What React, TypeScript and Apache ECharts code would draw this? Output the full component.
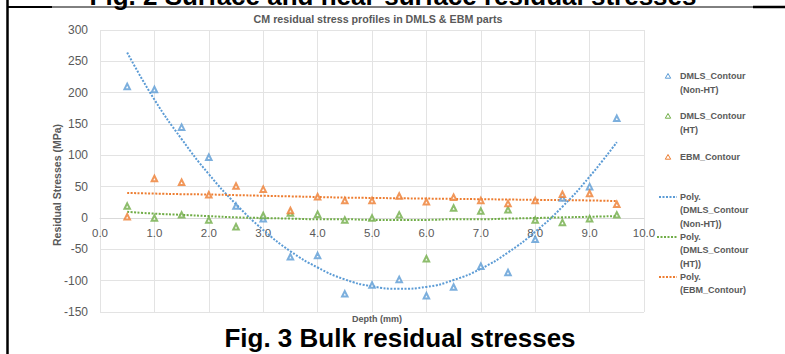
import React, { useEffect, useRef } from "react";
import * as echarts from "echarts";

const depth = [0.5, 1.0, 1.5, 2.0, 2.5, 3.0, 3.5, 4.0, 4.5, 5.0, 5.5, 6.0, 6.5, 7.0, 7.5, 8.0, 8.5, 9.0, 9.5];
const dmlsNonHT = [210, 205, 145, 97, 19, -1, -62, -60, -121, -107, -98, -124, -110, -77, -87, -34, 32, 50, 159];
const dmlsHT = [19, 0, 5, -3, -14, 4, 8, 6, -3, 0, 5, -65, 16, 11, 13, -3, -7, -1, 5];
const ebm = [2, 63, 57, 37, 51, 46, 12, 34, 28, 28, 35, 26, 33, 28, 23, 28, 38, 39, 22];
const polyNonHT = [264, 189, 126, 70, 22, -19, -53, -79, -98, -109, -113, -110, -99, -81, -55, -22, 18, 66, 121];
const polyHT = [10, 7, 5, 3, 1, 0, -1, -2, -2, -3, -3, -3, -2, -2, -1, 0, 1, 2, 3];
const polyEBM = [40, 39, 38, 37.5, 36.5, 35.5, 34.5, 33.5, 32.5, 32, 31.5, 31, 30.5, 30, 29.5, 29, 28.5, 28, 27];

const seriesNames = [
  "DMLS_Contour (Non-HT)",
  "DMLS_Contour (HT)",
  "EBM_Contour",
  "Poly. (DMLS_Contour (Non-HT))",
  "Poly. (DMLS_Contour (HT))",
  "Poly. (EBM_Contour)",
];
const yTicks = { min: -150, max: 300, interval: 50 };
const xTicks = { min: 0, max: 10, interval: 1 };

const BLUE = "#5b9bd5";
const GREEN = "#70ad47";
const ORANGE = "#ed7d31";
const GRAY = "#595959";
const FONT = '"Liberation Sans", Arial, sans-serif';

const GRID_TOP = 30;
const GRID_BOTTOM = 42;
const CHART_H = 354;

const pairs = (vals: number[]) => depth.map((d, i) => [d, vals[i]]);

export default function App() {
  const ref = useRef<HTMLDivElement>(null);
  useEffect(() => {
    if (!ref.current) return;
    const chart = echarts.init(ref.current, null, { renderer: "svg" });

    // distance (px) from the grid bottom to the y = 0 line
    const plotH = CHART_H - GRID_TOP - GRID_BOTTOM;
    const zeroOffset = (0 - yTicks.min) / (yTicks.max - yTicks.min) * plotH;

    const legendText = (x: number, y: number, text: string) => ({
      type: "text",
      x,
      y,
      style: {
        text,
        fill: GRAY,
        font: `bold 9px ${FONT}`,
        textAlign: "left",
        textVerticalAlign: "middle",
      },
    });
    const tri = (cx: number, cy: number, color: string) => ({
      type: "polygon",
      shape: { points: [[cx, cy - 2.5], [cx + 2.7, cy + 2.2], [cx - 2.7, cy + 2.2]] },
      style: { fill: "none", stroke: color, lineWidth: 1 },
    });
    const dots = (x1: number, x2: number, y: number, color: string) => ({
      type: "line",
      shape: { x1, y1: y, x2, y2: y },
      style: { stroke: color, lineWidth: 2, lineDash: [2, 1.5] },
    });

    const scatterBase = {
      type: "scatter",
      symbol: "emptyTriangle",
      symbolSize: 5.5,
      z: 3,
    };
    const lineBase = {
      type: "line",
      smooth: true,
      showSymbol: false,
      symbol: "none",
      z: 2,
    };

    chart.setOption({
      animation: false,
      backgroundColor: "#ffffff",
      title: {
        text: "CM residual stress profiles in DMLS & EBM parts",
        left: 373,
        top: 8,
        textAlign: "center",
        textStyle: { fontSize: 10.7, fontWeight: "bold", color: GRAY, fontFamily: FONT },
      },
      grid: { left: 100, right: 141, top: GRID_TOP, bottom: GRID_BOTTOM, containLabel: false },
      xAxis: {
        type: "value",
        min: xTicks.min,
        max: xTicks.max,
        interval: xTicks.interval,
        position: "bottom",
        offset: -zeroOffset,
        axisLine: { show: true, onZero: false, lineStyle: { color: "#d9d9d9", width: 1 } },
        axisTick: { show: false },
        axisLabel: {
          color: GRAY,
          fontSize: 11.5,
          fontFamily: FONT,
          margin: 9,
          formatter: (v: number) => v.toFixed(1),
        },
        splitLine: { show: true, lineStyle: { color: "#e3e3e3", width: 1 } },
      },
      yAxis: {
        type: "value",
        min: yTicks.min,
        max: yTicks.max,
        interval: yTicks.interval,
        axisLine: { show: false },
        axisTick: { show: false },
        axisLabel: { color: GRAY, fontSize: 12, fontFamily: FONT, margin: 12 },
        splitLine: { show: true, lineStyle: { color: "#e3e3e3", width: 1 } },
      },
      series: [
        { ...scatterBase, name: seriesNames[0], data: pairs(dmlsNonHT), itemStyle: { color: BLUE, borderWidth: 1 } },
        { ...scatterBase, name: seriesNames[1], data: pairs(dmlsHT), itemStyle: { color: GREEN, borderWidth: 1 } },
        { ...scatterBase, name: seriesNames[2], data: pairs(ebm), itemStyle: { color: ORANGE, borderWidth: 1 } },
        { ...lineBase, name: seriesNames[3], data: pairs(polyNonHT), lineStyle: { color: BLUE, width: 2, type: [2, 1.5] }, itemStyle: { color: BLUE } },
        { ...lineBase, name: seriesNames[4], data: pairs(polyHT), lineStyle: { color: GREEN, width: 2, type: [2, 1.5] }, itemStyle: { color: GREEN } },
        { ...lineBase, name: seriesNames[5], data: pairs(polyEBM), lineStyle: { color: ORANGE, width: 2, type: [2, 1.5] }, itemStyle: { color: ORANGE } },
      ],
      graphic: {
        elements: [
          // page frame
          { type: "line", shape: { x1: 7.5, y1: 0, x2: 7.5, y2: 354 }, style: { stroke: "#000", lineWidth: 2.5 } },
          { type: "line", shape: { x1: 7, y1: 7, x2: 52, y2: 7 }, style: { stroke: "#000", lineWidth: 2 } },
          { type: "line", shape: { x1: 52, y1: 7, x2: 753, y2: 7 }, style: { stroke: "#000", lineWidth: 1 } },
          { type: "line", shape: { x1: 753, y1: 7, x2: 785, y2: 7 }, style: { stroke: "#000", lineWidth: 2.5 } },
          {
            type: "text",
            x: 393,
            y: -4,
            style: {
              text: "Fig. 2 Surface and near-surface residual stresses",
              fill: "#000",
              font: `bold 26px ${FONT}`,
              textAlign: "center",
              textVerticalAlign: "middle",
            },
          },
          {
            type: "text",
            x: 400,
            y: 337.5,
            style: {
              text: "Fig. 3 Bulk residual stresses",
              fill: "#000",
              font: `bold 26px ${FONT}`,
              textAlign: "center",
              textVerticalAlign: "middle",
            },
          },
          // axis names
          {
            type: "text",
            x: 57,
            y: 185,
            rotation: Math.PI / 2,
            style: {
              text: "Residual Stresses (MPa)",
              fill: GRAY,
              font: `bold 10.5px ${FONT}`,
              textAlign: "center",
              textVerticalAlign: "middle",
            },
          },
          {
            type: "text",
            x: 377,
            y: 319,
            style: {
              text: "Depth (mm)",
              fill: GRAY,
              font: `bold 9px ${FONT}`,
              textAlign: "center",
              textVerticalAlign: "middle",
            },
          },
          // legend
          tri(668, 76, BLUE),
          legendText(680, 76, "DMLS_Contour"),
          legendText(680, 90, "(Non-HT)"),
          tri(668, 116, GREEN),
          legendText(680, 116, "DMLS_Contour"),
          legendText(680, 130, "(HT)"),
          tri(668, 157, ORANGE),
          legendText(680, 157, "EBM_Contour"),
          dots(659, 677, 197, BLUE),
          legendText(680, 197, "Poly."),
          legendText(680, 210, "(DMLS_Contour"),
          legendText(680, 224, "(Non-HT))"),
          dots(657, 677, 237, GREEN),
          legendText(680, 237, "Poly."),
          legendText(680, 250, "(DMLS_Contour"),
          legendText(680, 264, "(HT))"),
          dots(659, 677, 277, ORANGE),
          legendText(680, 277, "Poly."),
          legendText(680, 290, "(EBM_Contour)"),
        ],
      },
    });
    return () => chart.dispose();
  }, []);

  return (
    <div
      ref={ref}
      style={{ position: "fixed", left: 0, top: 0, width: 785, height: 354, background: "#fff" }}
    />
  );
}
